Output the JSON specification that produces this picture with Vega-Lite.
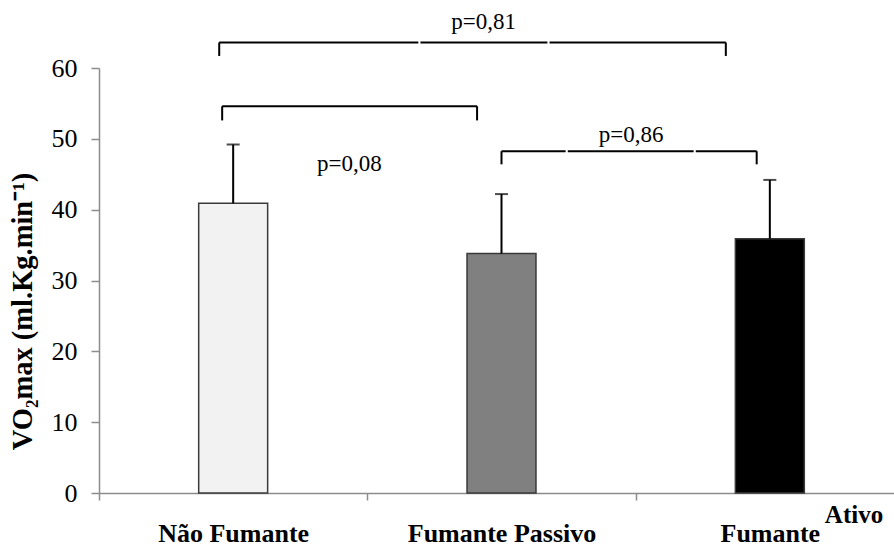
{
  "$schema": "https://vega.github.io/schema/vega-lite/v6.json",
  "autosize": "none",
  "padding": {"left": 99, "top": 68, "right": 0, "bottom": 51},
  "width": 805,
  "height": 425,
  "config": {
    "font": "Liberation Serif",
    "view": {"stroke": null},
    "axis": {"grid": false}
  },
  "datasets": {
    "groups": [
      {"grupo": "Não Fumante", "media": 40.9, "superior": 49.2},
      {"grupo": "Fumante Passivo", "media": 33.8, "superior": 42.2},
      {"grupo": "Fumante Ativo", "media": 35.9, "superior": 44.2}
    ],
    "brackets": [
      {"x": 0.448, "x2": 1.190, "y": 63.6, "y2": 63.6},
      {"x": 1.198, "x2": 1.671, "y": 63.6, "y2": 63.6},
      {"x": 1.679, "x2": 2.336, "y": 63.6, "y2": 63.6},
      {"x": 0.448, "x2": 0.448, "y": 63.6, "y2": 61.7},
      {"x": 2.336, "x2": 2.336, "y": 63.6, "y2": 61.7},
      {"x": 0.459, "x2": 1.409, "y": 54.6, "y2": 54.6},
      {"x": 0.459, "x2": 0.459, "y": 54.6, "y2": 52.6},
      {"x": 1.409, "x2": 1.409, "y": 54.6, "y2": 52.6},
      {"x": 1.5, "x2": 1.739, "y": 48.25, "y2": 48.25},
      {"x": 1.747, "x2": 2.216, "y": 48.25, "y2": 48.25},
      {"x": 2.224, "x2": 2.451, "y": 48.25, "y2": 48.25},
      {"x": 1.5, "x2": 1.5, "y": 48.25, "y2": 46.4},
      {"x": 2.451, "x2": 2.451, "y": 48.25, "y2": 46.4}
    ],
    "pvalues": [
      {"x": 1.433, "y": 65.5, "texto": "p=0,81"},
      {"x": 0.933, "y": 45.4, "texto": "p=0,08"},
      {"x": 1.983, "y": 49.5, "texto": "p=0,86"}
    ],
    "extra": [
      {"x": 2.705, "y": 0, "texto": "Ativo"}
    ]
  },
  "resolve": {"scale": {"x": "independent"}, "axis": {"x": "independent"}},
  "layer": [
    {
      "data": {"name": "groups"},
      "encoding": {
        "x": {
          "field": "grupo",
          "type": "nominal",
          "sort": ["Não Fumante", "Fumante Passivo", "Fumante Ativo"],
          "scale": {"paddingInner": 0, "paddingOuter": 0},
          "axis": {
            "title": null,
            "labelAngle": 0,
            "labelExpr": "datum.label == 'Fumante Ativo' ? 'Fumante' : datum.label",
            "labelFont": "Liberation Serif",
            "labelFontSize": 26,
            "labelFontWeight": "bold",
            "labelColor": "#000000",
            "labelBaseline": "alphabetic",
            "labelPadding": 41,
            "labelLimit": 0,
            "tickBand": "extent",
            "tickSize": 7,
            "tickColor": "#8c8c8c",
            "tickWidth": 1.5,
            "domainColor": "#8c8c8c",
            "domainWidth": 1.5
          }
        }
      },
      "layer": [
        {
          "mark": {"type": "bar", "width": {"band": 0.257}, "stroke": "#3a3a3a", "strokeWidth": 1.5},
          "encoding": {
            "y": {
              "field": "media",
              "type": "quantitative",
              "scale": {"domain": [0, 60], "nice": false, "zero": true},
              "axis": {
                "values": [0, 10, 20, 30, 40, 50, 60],
                "title": "VO₂max (ml.Kg.min⁻¹)",
                "titleFont": "Liberation Serif",
                "titleFontSize": 28.5,
                "titleFontWeight": "bold",
                "titleColor": "#000000",
                "titleAngle": -90,
                "titleX": -77,
                "titleY": 243,
                "titleAlign": "center",
                "titleBaseline": "middle",
                "titleLimit": 0,
                "labelFont": "Liberation Serif",
                "labelFontSize": 26,
                "labelColor": "#000000",
                "labelPadding": 14,
                "tickSize": 8,
                "tickColor": "#8c8c8c",
                "tickWidth": 1.5,
                "domainColor": "#8c8c8c",
                "domainWidth": 1.5
              }
            },
            "fill": {
              "field": "grupo",
              "type": "nominal",
              "scale": {
                "domain": ["Não Fumante", "Fumante Passivo", "Fumante Ativo"],
                "range": ["#f2f2f2", "#808080", "#000000"]
              },
              "legend": null
            }
          }
        },
        {
          "mark": {"type": "rule", "color": "#000000", "strokeWidth": 2},
          "encoding": {
            "y": {"field": "media", "type": "quantitative"},
            "y2": {"field": "superior"}
          }
        },
        {
          "mark": {"type": "tick", "color": "#000000", "size": 13, "thickness": 2, "orient": "horizontal"},
          "encoding": {
            "y": {"field": "superior", "type": "quantitative"}
          }
        }
      ]
    },
    {
      "layer": [
        {
          "data": {"name": "brackets"},
          "mark": {"type": "rule", "color": "#000000", "strokeWidth": 2},
          "encoding": {
            "x": {"field": "x", "type": "quantitative", "scale": {"domain": [0, 3], "nice": false, "zero": false}, "axis": null},
            "x2": {"field": "x2"},
            "y": {"field": "y", "type": "quantitative"},
            "y2": {"field": "y2"}
          }
        },
        {
          "data": {"name": "pvalues"},
          "mark": {"type": "text", "font": "Liberation Serif", "fontSize": 23, "align": "center", "baseline": "alphabetic", "color": "#000000"},
          "encoding": {
            "x": {"field": "x", "type": "quantitative", "scale": {"domain": [0, 3], "nice": false, "zero": false}, "axis": null},
            "y": {"field": "y", "type": "quantitative"},
            "text": {"field": "texto"}
          }
        },
        {
          "data": {"name": "extra"},
          "mark": {"type": "text", "font": "Liberation Serif", "fontSize": 25, "fontWeight": "bold", "align": "left", "baseline": "alphabetic", "color": "#000000", "dy": 30},
          "encoding": {
            "x": {"field": "x", "type": "quantitative", "scale": {"domain": [0, 3], "nice": false, "zero": false}, "axis": null},
            "y": {"field": "y", "type": "quantitative"},
            "text": {"field": "texto"}
          }
        }
      ]
    }
  ]
}
